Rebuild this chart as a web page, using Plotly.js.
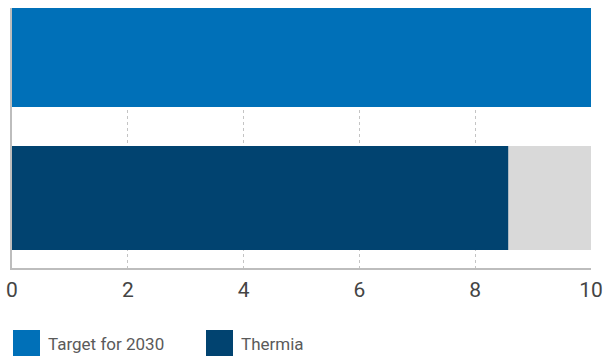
<!DOCTYPE html>
<html><head><meta charset="utf-8">
<script src="https://cdn.plot.ly/plotly-3.0.1.min.js"></script>
<style>html,body{margin:0;padding:0;background:#fff}#c{width:606px;height:356px}</style>
</head><body><div id="c"></div>
<script>
const categories = ["Thermia", "Target for 2030"];
const targetValues = [null, 10];
const thermiaValues = [8.57, null];
const scaleMax = [10, null];
const tickVals = [0, 2, 4, 6, 8, 10];
const legendNames = ["Target for 2030", "Thermia"];
const colors = {target: "#0070b8", thermia: "#014370", rest: "#d9d9d9"};

const traces = [
  {type: "bar", orientation: "h", y: categories, x: scaleMax, marker: {color: colors.rest}, width: 0.727, hoverinfo: "skip", showlegend: false},
  {type: "bar", orientation: "h", y: categories, x: targetValues, name: legendNames[0], marker: {color: colors.target}, width: 0.727, showlegend: false},
  {type: "bar", orientation: "h", y: categories, x: thermiaValues, name: legendNames[1], marker: {color: colors.thermia}, width: 0.727, showlegend: false}
];

const legendShapes = [], legendAnn = [];
const legendX = [13, 206];
const legendColors = [colors.target, colors.thermia];
legendNames.forEach((n, i) => {
  legendShapes.push({type: "rect", xref: "paper", yref: "paper", layer: "above",
    x0: (legendX[i] - 12) / 579, x1: (legendX[i] + 27 - 12) / 579,
    y0: (268 - 356) / 260, y1: (268 - 330) / 260,
    fillcolor: legendColors[i], line: {width: 0}});
  legendAnn.push({xref: "paper", yref: "paper", x: (legendX[i] + 33 - 12) / 579, y: (268 - 344) / 260,
    xanchor: "left", yanchor: "middle", showarrow: false, text: n,
    font: {family: "Roboto, sans-serif", size: 17, color: "#5a5a5a"}});
});

const layout = {
  width: 606, height: 356,
  margin: {l: 12, r: 15, t: 8, b: 88},
  paper_bgcolor: "#fff", plot_bgcolor: "#fff",
  barmode: "overlay",
  showlegend: false,
  xaxis: {range: [0, 10], tickvals: tickVals, ticks: "", showgrid: true, gridcolor: "#c4c4c4", griddash: "dot", gridwidth: 1,
    showline: true, linecolor: "#bdbdbd", linewidth: 2, zeroline: false,
    tickfont: {family: "Roboto, sans-serif", size: 21, color: "#444"}, ticklabelstandoff: 2, fixedrange: true},
  yaxis: {type: "category", range: [-0.49, 1.33], showticklabels: false, ticks: "", showgrid: false,
    showline: true, linecolor: "#bdbdbd", linewidth: 2, zeroline: false, fixedrange: true},
  shapes: legendShapes,
  annotations: legendAnn
};
Plotly.newPlot("c", traces, layout, {displayModeBar: false, staticPlot: true});
</script></body></html>
